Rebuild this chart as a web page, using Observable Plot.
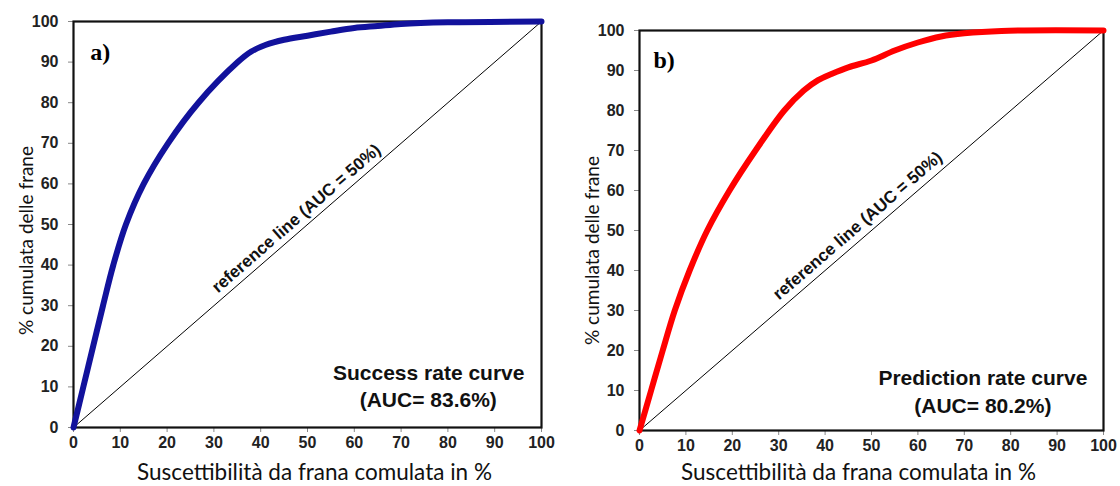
<!DOCTYPE html>
<html>
<head>
<meta charset="utf-8">
<script src="https://cdn.jsdelivr.net/npm/d3@7"></script>
<script src="https://cdn.jsdelivr.net/npm/@observablehq/plot@0.6"></script>
<style>
  html, body { margin: 0; padding: 0; background: #fff; }
  #wrap { display: flex; flex-direction: row; width: 1120px; height: 486px; }
</style>
</head>
<body>
<div id="wrap"></div>
<script>
// ---- data ----
const xTicks = [0, 10, 20, 30, 40, 50, 60, 70, 80, 90, 100];
const yTicks = [0, 10, 20, 30, 40, 50, 60, 70, 80, 90, 100];

const successX = [0, 2.1, 4.2, 6.3, 8.5, 11.2, 15, 20.2, 26.7, 35.1, 38, 41, 45, 50, 55, 60, 65, 70, 80, 100];
const successY = [0, 10, 20, 30, 40, 50, 60, 70, 80, 90, 92.6, 94.2, 95.5, 96.5, 97.5, 98.4, 98.9, 99.4, 99.8, 100];

const predictionX = [0, 2.5, 5, 7.6, 10.8, 14.6, 19.4, 25, 31.2, 35.4, 38.5, 41.5, 45, 50, 55, 60, 65, 70, 78, 100];
const predictionY = [0, 10, 20, 30, 40, 50, 60, 70, 80, 85, 87.6, 89.2, 90.8, 92.5, 95, 97, 98.5, 99.3, 99.9, 100];

const refLineX = [0, 100];
const refLineY = [0, 100];

const xTitle = "Suscettibilità da frana comulata in %";
const yTitle = "% cumulata delle frane";
const refLabel = "reference line (AUC = 50%)";

const panels = [
  {
    tag: "a)", xs: successX, ys: successY, color: "#12129c",
    name: "Success rate curve", auc: "(AUC= 83.6%)",
    nameAt: [75.9, 13.3], aucAt: [75.8, 6.6], tagAt: [3.6, 92.5], refAt: [47.6, 51.5],
    xTitleShift: [7, 45], yTitleShift: [-47, 16],
    margins: {top: 21, right: 19, bottom: 59, left: 73}
  },
  {
    tag: "b)", xs: predictionX, ys: predictionY, color: "#ff0000",
    name: "Prediction rate curve", auc: "(AUC= 80.2%)",
    nameAt: [74.0, 13.1], aucAt: [74.0, 6.0], tagAt: [3, 92.5], refAt: [47, 51.2],
    xTitleShift: [-13, 42], yTitleShift: [-47, 20],
    margins: {top: 30, right: 17, bottom: 56, left: 79}
  }
];

const wrap = document.getElementById("wrap");

for (const p of panels) {
  const W = 560, H = 486;
  const iw = W - p.margins.left - p.margins.right;
  const ih = H - p.margins.top - p.margins.bottom;
  const angle = -Math.atan(ih / iw) * 180 / Math.PI;
  const curve = p.xs.map((x, i) => ({x, y: p.ys[i]}));
  const diag = refLineX.map((x, i) => ({x, y: refLineY[i]}));

  const chart = Plot.plot({
    width: W, height: H,
    marginTop: p.margins.top, marginRight: p.margins.right,
    marginBottom: p.margins.bottom, marginLeft: p.margins.left,
    x: {domain: [0, 100]},
    y: {domain: [0, 100]},
    style: {fontFamily: "'Liberation Sans', Arial, sans-serif", fontSize: "16px", fontWeight: "bold", color: "#222", background: "#fff"},
    marks: [
      Plot.axisX({ticks: xTicks, tickSize: 5, tickPadding: 4, stroke: "#888", fill: "#222", label: null, fontSize: 16, fontWeight: "bold"}),
      Plot.axisY({ticks: yTicks, tickSize: 5, tickPadding: 10, stroke: "#888", fill: "#222", label: null, fontSize: 16, fontWeight: "bold"}),
      Plot.line(diag, {x: "x", y: "y", stroke: "#000", strokeWidth: 1}),
      Plot.frame({stroke: "#111", strokeWidth: 2.2}),
      Plot.line(curve, {x: "x", y: "y", stroke: p.color, strokeWidth: 6, curve: "catmull-rom"}),
      Plot.text([refLabel], {x: p.refAt[0], y: p.refAt[1], rotate: angle, fontSize: 17, fontWeight: "bold", fill: "#111"}),
      Plot.text([p.name], {x: p.nameAt[0], y: p.nameAt[1], fontSize: 21, fontWeight: "bold", fill: "#111"}),
      Plot.text([p.auc], {x: p.aucAt[0], y: p.aucAt[1], fontSize: 21, fontWeight: "bold", fill: "#111"}),
      Plot.text([p.tag], {x: p.tagAt[0], y: p.tagAt[1], textAnchor: "start", fontSize: 24, fontWeight: "bold", fontFamily: "'Liberation Serif', 'Times New Roman', serif", fill: "#000"}),
      Plot.text([xTitle], {frameAnchor: "bottom", textAnchor: "middle", lineAnchor: "middle", dx: p.xTitleShift[0], dy: p.xTitleShift[1], fontFamily: "Lato, 'Open Sans', sans-serif", fontSize: 22.5, fontWeight: "normal", fill: "#111"}),
      Plot.text([yTitle], {frameAnchor: "left", textAnchor: "middle", lineAnchor: "middle", rotate: -90, dx: p.yTitleShift[0], dy: p.yTitleShift[1], fontFamily: "Lato, 'Open Sans', sans-serif", fontSize: 19, fontWeight: "normal", fill: "#111"})
    ]
  });
  wrap.appendChild(chart);
}
</script>
</body>
</html>
